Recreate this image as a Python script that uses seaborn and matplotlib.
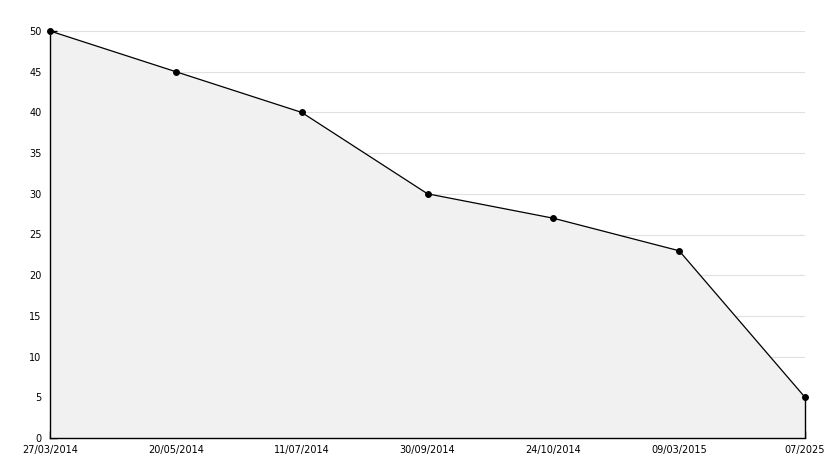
import pandas as pd
import matplotlib.pyplot as plt
import seaborn as sns
from matplotlib.ticker import MultipleLocator

sns.set_theme(style="white")
plt.rcParams["font.family"] = ["DejaVu Sans"]

# data
dates = ["27/03/2014", "20/05/2014", "11/07/2014", "30/09/2014",
         "24/10/2014", "09/03/2015", "07/2025"]
values = [50, 45, 40, 30, 27, 23, 5]

df = pd.DataFrame({"pos": range(len(dates)), "value": values})

fig = plt.figure(figsize=(8.34, 4.68), dpi=100)
ax = fig.add_axes([50 / 834, 30 / 468, 755 / 834, 407 / 468])

ax.fill_between(df["pos"], 0, df["value"], color="#f1f1f1", zorder=1)
# closing edge of the area at the last point
ax.vlines(df["pos"].iloc[-1], 0, df["value"].iloc[-1], color="black",
          linewidth=1, zorder=2, clip_on=False)
sns.lineplot(data=df, x="pos", y="value", color="black", linewidth=0.9,
             marker="o", markersize=4.2, markeredgecolor="black", ax=ax,
             zorder=3, clip_on=False)

ax.set_xlim(0, len(dates) - 1)
ax.set_ylim(0, 50)
ax.yaxis.set_major_locator(MultipleLocator(5))
ax.yaxis.set_minor_locator(MultipleLocator(1))
ax.set_xticks(df["pos"])
ax.set_xticklabels(dates)
ax.grid(axis="y", color="#e0e0e0", linewidth=0.8, zorder=0)
ax.set_axisbelow(True)

ax.set_xlabel("")
ax.set_ylabel("")
for side in ["top", "right"]:
    ax.spines[side].set_visible(False)
for side in ["left", "bottom"]:
    ax.spines[side].set_color("black")
    ax.spines[side].set_linewidth(1)

ax.tick_params(axis="both", which="major", direction="in", length=5, width=1,
               color="black", labelsize=7, labelcolor="black")
ax.tick_params(axis="y", which="major", left=True, pad=6)
ax.tick_params(axis="x", which="major", bottom=True, pad=5)
ax.tick_params(axis="y", which="minor", direction="in", length=3, width=1,
               left=True, color="black")

# lift the "0" label a little so it clears the first date, as in the reference
zero_label = ax.get_yticklabels()[0]
zero_label.set_verticalalignment("bottom")

fig.savefig("out.png", dpi=100)
